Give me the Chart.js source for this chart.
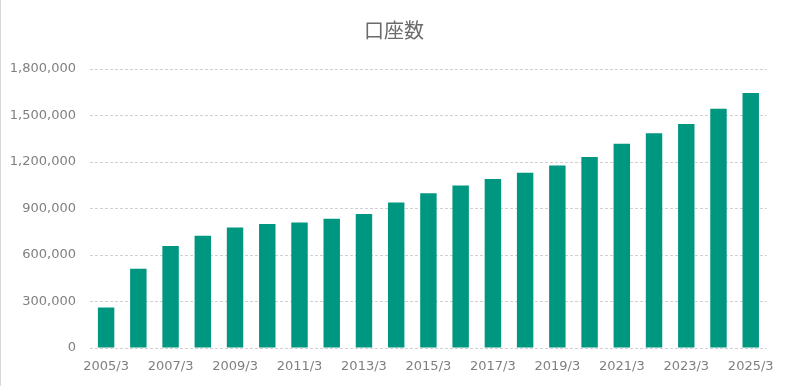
<!DOCTYPE html>
<html>
<head>
<meta charset="utf-8">
<script src="https://cdn.jsdelivr.net/npm/chart.js@4"></script>
<style>
  html, body { margin: 0; padding: 0; background: #fff; }
  #wrap { width: 785px; height: 386px; box-sizing: border-box; border-left: 1px solid #d9d9d9; }
</style>
</head>
<body>
<div id="wrap"><canvas id="accounts_chart" width="784" height="386"></canvas></div>
<script>
const years = ["2005/3", "2006/3", "2007/3", "2008/3", "2009/3", "2010/3", "2011/3",
    "2012/3", "2013/3", "2014/3", "2015/3", "2016/3", "2017/3", "2018/3",
    "2019/3", "2020/3", "2021/3", "2022/3", "2023/3", "2024/3", "2025/3"];
const accounts = [262000, 512000, 658000, 725000, 778000, 800000, 809000,
    834000, 865000, 938000, 998000, 1049000, 1090000, 1131000,
    1178000, 1232000, 1318000, 1385000, 1445000, 1544000, 1645000];
const y_ticks = [0, 300000, 600000, 900000, 1200000, 1500000, 1800000];

const gray_text = "#7f7f7f";

// centre the title over the whole canvas, not the padded box
const title_centre = {
    id: "title_centre",
    afterLayout: function (chart) {
        const t = chart.titleBlock;
        if (t) { t.left = 0; t.right = chart.width + 2; t.width = t.right; }
    }
};

const accounts_chart = new Chart("accounts_chart",
{
    type: "bar",
    plugins: [title_centre],
    data:
    {
        labels: years,
        datasets:
        [
            {
                label: "口座数",
                data: accounts,
                backgroundColor: "#009781",
                borderWidth: 0,
                barPercentage: 0.51,
                categoryPercentage: 1.0
            }
        ]
    },
    options:
    {
        animation: false,
        responsive: false,
        layout:
        {
            padding: { left: 0, right: 17, top: 0, bottom: 0 }
        },
        plugins:
        {
            legend: { display: false },
            tooltip: { enabled: false },
            title:
            {
                display: true,
                text: "口座数",
                color: "#6b6b6b",
                font: { family: "Noto Sans CJK JP", size: 20, weight: "normal" },
                padding: { top: 18, bottom: 27 }
            }
        },
        scales:
        {
            x:
            {
                grid: { display: false, drawTicks: false },
                border: { display: false },
                ticks:
                {
                    color: gray_text,
                    font: { family: "DejaVu Sans", size: 13 },
                    padding: 11,
                    maxRotation: 0,
                    autoSkip: false,
                    callback: function (value, index) { return index % 2 === 0 ? years[index] : ""; }
                },
                afterFit: function (scale) { scale.height = 38; }
            },
            y:
            {
                min: 0,
                max: 1800000,
                afterBuildTicks: function (scale) { scale.ticks = y_ticks.map(v => ({ value: v })); },
                grid:
                {
                    color: "#d0d0d0",
                    drawTicks: false
                },
                border: { display: false, dash: [3, 2] },
                ticks:
                {
                    color: gray_text,
                    font: { family: "DejaVu Sans", size: 13 },
                    padding: 14,
                    callback: function (value) { return value.toLocaleString("en-US"); }
                },
                afterFit: function (scale) { scale.width = 89; }
            }
        }
    }
});
</script>
</body>
</html>
